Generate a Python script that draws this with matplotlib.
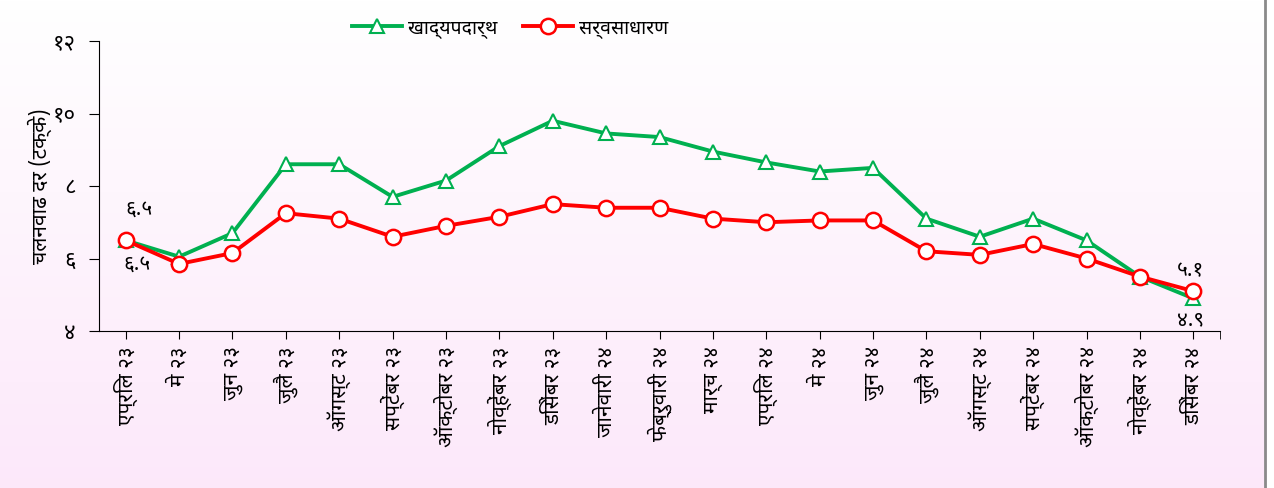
import numpy as np
import matplotlib
matplotlib.use("Agg")
import matplotlib.pyplot as plt
from matplotlib import font_manager
from matplotlib.ft2font import FT2Font
from matplotlib.lines import Line2D

months = ["एप्रिल २३", "मे २३", "जुन २३", "जुलै २३", "ऑगस्ट २३", "सप्टेंबर २३",
          "ऑक्टोबर २३", "नोव्हेंबर २३", "डिसेंबर २३", "जानेवारी २४", "फेब्रुवारी २४",
          "मार्च २४", "एप्रिल २४", "मे २४", "जुन २४", "जुलै २४", "ऑगस्ट २४",
          "सप्टेंबर २४", "ऑक्टोबर २४", "नोव्हेंबर २४", "डिसेंबर २४"]
food = [6.5, 6.05, 6.7, 8.6, 8.6, 7.7, 8.15, 9.1, 9.8, 9.45, 9.35, 8.95,
        8.65, 8.4, 8.5, 7.1, 6.6, 7.1, 6.5, 5.5, 4.9]
general = [6.5, 5.85, 6.15, 7.25, 7.1, 6.6, 6.9, 7.15, 7.5, 7.4, 7.4, 7.1,
           7.0, 7.05, 7.05, 6.2, 6.1, 6.4, 6.0, 5.5, 5.1]
yticks = [4, 6, 8, 10, 12]
ytick_labels = ["४", "६", "८", "१०", "१२"]
series_names = ["खाद्यपदार्थ", "सर्वसाधारण"]
ylabel = "चलनवाढ दर (टक्के)"


def find_deva_font():
    # fonts with Devanagari glyphs, pick a plain sans one if we can
    have = set()
    for f in font_manager.fontManager.ttflist:
        try:
            if 0x0915 in FT2Font(f.fname).get_charmap():
                have.add(f.name)
        except Exception:
            pass
    for name in ["Noto Sans Devanagari", "Hind", "Mukta", "Poppins", "Tiro Devanagari Hindi",
                 "Anek Devanagari", "Baloo 2", "Biryani", "FreeSans"]:
        if name in have:
            return name
    return sorted(have)[0] if have else None


deva = find_deva_font()
plt.rcParams["font.family"] = [deva, "DejaVu Sans"] if deva else ["DejaVu Sans"]

fig = plt.figure(figsize=(12.74, 4.88), dpi=100)

# pinkish vertical gradient background
bg = fig.add_axes([0, 0, 1, 1], zorder=-10)
grad = np.linspace(0, 1, 256).reshape(-1, 1)
top = np.array([1.0, 1.0, 1.0])
bot = np.array([0.99, 0.91, 0.98])
img = top + (bot - top) * grad[:, :, None]
bg.imshow(img, aspect="auto", extent=[0, 1, 0, 1], origin="upper")
bg.axvline(1265 / 1274, color="#8a8a8a", lw=2)
bg.axvspan(1267 / 1274, 1, color="white")
bg.set_xlim(0, 1)
bg.set_ylim(0, 1)
bg.axis("off")

ax = fig.add_axes([99 / 1274, 1 - 331 / 488, (1220 - 99) / 1274, (331 - 41) / 488])
ax.patch.set_alpha(0)

x = np.arange(len(months))
ax.plot(x, food, color="#00B050", lw=2.8, marker="^", markersize=10,
        markerfacecolor="white", markeredgecolor="#00B050", markeredgewidth=1.5, zorder=3)
ax.plot(x, general, color="#FF0000", lw=2.8, marker="o", markersize=11,
        markerfacecolor="white", markeredgecolor="#FF0000", markeredgewidth=1.8, zorder=4)

ax.set_xlim(-0.5, len(months) - 0.5)
ax.set_ylim(4, 12)
ax.set_yticks(yticks)
ax.set_yticklabels(ytick_labels, fontsize=16)
ax.set_xticks(x)
ax.set_xticklabels(months, rotation=90, fontsize=15)
ax.set_xticks([len(months) - 0.5], minor=True)
ax.tick_params(axis="x", which="both", length=6, direction="out", pad=5)
ax.tick_params(axis="y", length=7, direction="out", pad=10)
for s in ["top", "right"]:
    ax.spines[s].set_visible(False)
ax.set_ylabel(ylabel, fontsize=15, labelpad=0)

# value labels at start and end
ax.annotate("६.५", (0, general[0]), xytext=(0.25, general[0] + 0.7), fontsize=15, ha="center")
ax.annotate("६.५", (0, food[0]), xytext=(0.22, food[0] - 0.8), fontsize=15, ha="center")
ax.annotate("५.१", (20, general[-1]), xytext=(19.95, general[-1] + 0.4), fontsize=15, ha="center")
ax.annotate("४.९", (20, food[-1]), xytext=(19.95, food[-1] - 0.75), fontsize=15, ha="center")

handles = [
    Line2D([], [], color="#00B050", lw=2.8, marker="^", markersize=10,
           markerfacecolor="white", markeredgecolor="#00B050", markeredgewidth=1.5),
    Line2D([], [], color="#FF0000", lw=2.8, marker="o", markersize=11,
           markerfacecolor="white", markeredgecolor="#FF0000", markeredgewidth=1.8),
]
fig.legend(handles, series_names, loc="center", bbox_to_anchor=(510 / 1274, 1 - 28 / 488),
           ncol=2, frameon=False, fontsize=14, handlelength=2.6, columnspacing=1.3,
           handletextpad=0.3)

fig.savefig("out.png", dpi=100)
